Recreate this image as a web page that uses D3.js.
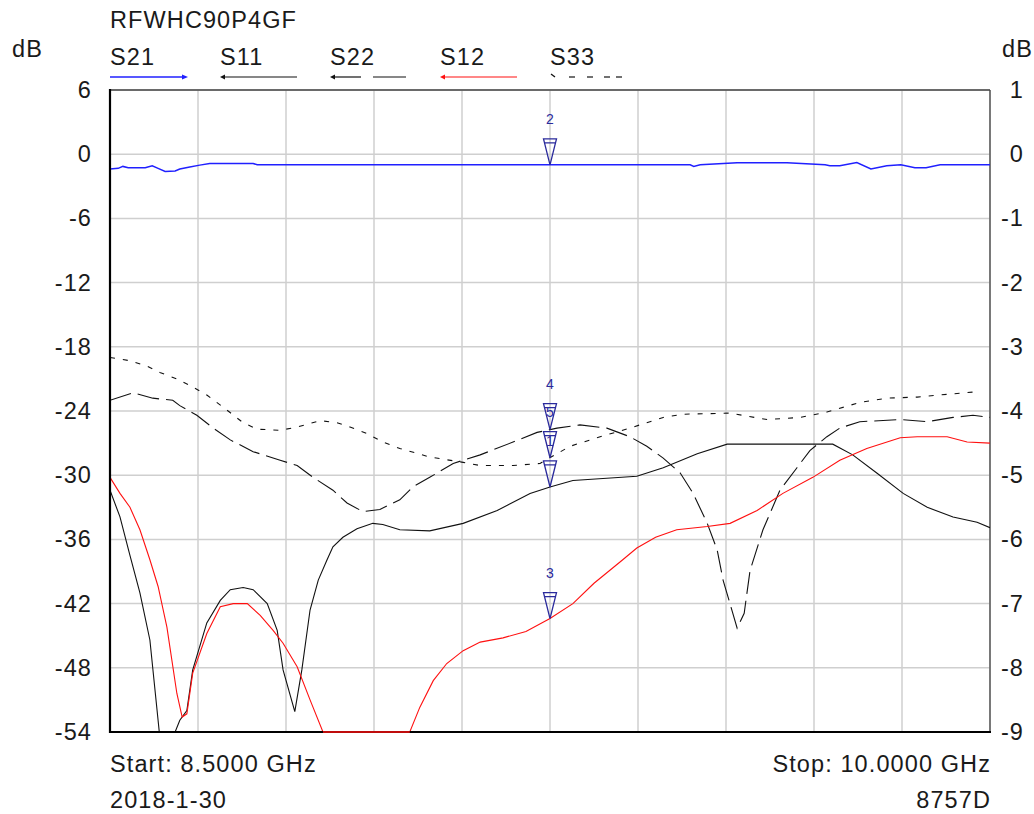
<!DOCTYPE html>
<html>
<head>
<meta charset="utf-8">
<script src="https://cdn.jsdelivr.net/npm/d3@7"></script>
<style>
  body { margin: 0; background: #fff; }
  svg text { font-family: "Liberation Sans", Arial, sans-serif; fill: #1a1a1a; font-size: 23.5px; letter-spacing: 1.1px; }
</style>
</head>
<body>
<svg id="chart" width="1034" height="814"></svg>
<script>
// frequency axis, GHz
var fStart = 8.5, fStop = 10.0;
var leftTicks = [6, 0, -6, -12, -18, -24, -30, -36, -42, -48, -54];
var rightTicks = [1, 0, -1, -2, -3, -4, -5, -6, -7, -8, -9];

// S21 (right axis, 1 dB/div)
var s21Freq = [8.500, 8.514, 8.522, 8.531, 8.560, 8.572, 8.582, 8.594, 8.611, 8.619, 8.636, 8.653, 8.670, 8.744, 8.751, 9.489, 9.495, 9.506, 9.569, 9.654, 9.719, 9.727, 9.744, 9.773, 9.797, 9.824, 9.848, 9.872, 9.891, 9.915, 10.000];
var s21Val = [-0.23, -0.22, -0.19, -0.21, -0.21, -0.18, -0.22, -0.27, -0.26, -0.23, -0.20, -0.17, -0.145, -0.145, -0.165, -0.165, -0.19, -0.165, -0.135, -0.135, -0.165, -0.18, -0.18, -0.13, -0.23, -0.18, -0.165, -0.21, -0.21, -0.165, -0.165];

// S11 (left axis)
var s11Freq = [8.500, 8.517, 8.534, 8.551, 8.568, 8.584, 8.611, 8.619, 8.631, 8.641, 8.665, 8.688, 8.705, 8.727, 8.744, 8.768, 8.785, 8.795, 8.815, 8.827, 8.841, 8.855, 8.870, 8.880, 8.897, 8.921, 8.948, 8.965, 8.994, 9.045, 9.102, 9.160, 9.216, 9.250, 9.289, 9.398, 9.443, 9.501, 9.552, 9.732, 9.766, 9.807, 9.852, 9.893, 9.937, 9.978, 10.000];
var s11Val = [-31.4, -33.9, -37.5, -41.0, -45.4, -54.0, -54.0, -52.9, -52.0, -48.2, -43.8, -41.7, -40.7, -40.5, -40.7, -42.0, -44.5, -48.2, -52.1, -48.2, -42.6, -39.8, -37.9, -36.7, -35.8, -35.0, -34.5, -34.6, -35.1, -35.2, -34.5, -33.3, -31.7, -31.1, -30.5, -30.1, -29.3, -28.0, -27.1, -27.1, -28.1, -29.8, -31.7, -33.0, -33.9, -34.4, -34.9];

// S22
var s22Freq = [8.500, 8.539, 8.573, 8.607, 8.619, 8.648, 8.676, 8.705, 8.744, 8.790, 8.819, 8.846, 8.880, 8.904, 8.931, 8.960, 8.994, 9.016, 9.045, 9.085, 9.131, 9.187, 9.228, 9.262, 9.301, 9.347, 9.386, 9.415, 9.443, 9.472, 9.494, 9.518, 9.535, 9.545, 9.569, 9.581, 9.591, 9.613, 9.642, 9.671, 9.693, 9.722, 9.744, 9.778, 9.847, 9.893, 9.937, 9.971, 10.000];
var s22Val = [-23.0, -22.3, -22.8, -23.0, -23.5, -24.4, -25.6, -26.7, -27.8, -28.6, -29.1, -30.2, -31.4, -32.6, -33.4, -33.2, -32.3, -31.1, -30.2, -28.9, -28.1, -26.9, -26.0, -25.6, -25.3, -25.6, -26.4, -27.3, -28.4, -29.8, -31.7, -34.5, -37.0, -39.8, -44.3, -42.9, -38.9, -35.1, -31.4, -29.3, -27.7, -26.4, -25.6, -25.0, -24.8, -25.0, -24.6, -24.4, -24.6];

// S12
var s12Freq = [8.500, 8.517, 8.534, 8.551, 8.568, 8.582, 8.597, 8.614, 8.623, 8.631, 8.641, 8.665, 8.688, 8.710, 8.734, 8.756, 8.778, 8.795, 8.819, 8.841, 8.863, 9.011, 9.028, 9.051, 9.074, 9.102, 9.131, 9.170, 9.209, 9.250, 9.289, 9.325, 9.374, 9.398, 9.430, 9.466, 9.518, 9.557, 9.603, 9.647, 9.698, 9.744, 9.790, 9.847, 9.876, 9.927, 9.961, 10.000];
var s12Val = [-30.2, -31.7, -33.0, -35.1, -37.9, -40.4, -44.2, -50.4, -52.6, -52.3, -48.5, -44.8, -42.3, -42.0, -42.0, -43.1, -44.5, -45.7, -47.9, -51.0, -54.0, -54.0, -51.7, -49.2, -47.6, -46.4, -45.6, -45.2, -44.6, -43.4, -42.0, -40.1, -37.9, -36.8, -35.8, -35.1, -34.8, -34.5, -33.3, -31.7, -30.2, -28.6, -27.5, -26.5, -26.4, -26.4, -26.9, -27.0];

// S33
var s33Freq = [8.500, 8.534, 8.563, 8.585, 8.614, 8.636, 8.665, 8.699, 8.727, 8.751, 8.790, 8.819, 8.858, 8.887, 8.909, 8.938, 8.965, 8.994, 9.045, 9.102, 9.131, 9.187, 9.233, 9.284, 9.330, 9.386, 9.443, 9.477, 9.557, 9.620, 9.676, 9.722, 9.778, 9.824, 9.876, 9.915, 9.978];
var s33Val = [-19.0, -19.3, -19.8, -20.4, -21.0, -21.6, -22.5, -23.9, -25.1, -25.7, -25.8, -25.5, -24.9, -25.1, -25.5, -26.1, -26.9, -27.5, -28.3, -28.8, -29.1, -29.1, -28.9, -27.3, -26.5, -25.6, -24.6, -24.3, -24.2, -24.8, -24.6, -24.1, -23.2, -22.8, -22.7, -22.5, -22.2];

// markers: all at 9.25 GHz
var markerFreq = 9.25;
var markerIds = ['2', '4', '5', '1', '3'];
var markerTrace = ['S21', 'S22', 'S33', 'S11', 'S12'];

var legendNames = ['S21', 'S11', 'S22', 'S12', 'S33'];

var svg = d3.select('#chart');
var pLeft = 110, pRight = 990, pTop = 90, pBottom = 732;

var x = d3.scaleLinear().domain([fStart, fStop]).range([pLeft, pRight]);
var yL = d3.scaleLinear().domain([-54, 6]).range([pBottom, pTop]);
var yR = d3.scaleLinear().domain([-9, 1]).range([pBottom, pTop]);

var traces = {
  S21: { f: s21Freq, v: s21Val, y: yR, color: '#2020ff', dash: null, width: 1.5 },
  S11: { f: s11Freq, v: s11Val, y: yL, color: '#111', dash: null, width: 1.1 },
  S22: { f: s22Freq, v: s22Val, y: yL, color: '#111', dash: '22,7', width: 1.1 },
  S12: { f: s12Freq, v: s12Val, y: yL, color: '#ff1010', dash: null, width: 1.1 },
  S33: { f: s33Freq, v: s33Val, y: yL, color: '#111', dash: '5,8', width: 1.1 }
};

var plainNum = function (d) { return String(d); }; // hyphen minus like the analyser

// grid
var vGrid = d3.range(0, 11).map(function (i) { return fStart + i * (fStop - fStart) / 10; });
svg.append('g').selectAll('line').data(vGrid).enter().append('line')
  .attr('x1', function (d) { return x(d); }).attr('x2', function (d) { return x(d); })
  .attr('y1', pTop).attr('y2', pBottom)
  .attr('stroke', '#cfcfcf').attr('stroke-width', 1.5);
svg.append('g').selectAll('line').data(leftTicks).enter().append('line')
  .attr('x1', pLeft).attr('x2', pRight)
  .attr('y1', function (d) { return yL(d); }).attr('y2', function (d) { return yL(d); })
  .attr('stroke', '#cfcfcf').attr('stroke-width', 1.5);

// axes labels
var axL = svg.append('g').attr('transform', 'translate(' + pLeft + ',0)')
  .call(d3.axisLeft(yL).tickValues(leftTicks).tickFormat(plainNum).tickSize(0).tickPadding(18));
axL.select('.domain').remove();
axL.selectAll('text').attr('font-size', null).attr('font-family', null).attr('fill', '#1a1a1a');

var axR = svg.append('g').attr('transform', 'translate(' + pRight + ',0)')
  .call(d3.axisRight(yR).tickValues(rightTicks).tickFormat(plainNum).tickSize(0));
axR.select('.domain').remove();
axR.selectAll('text').attr('font-size', null).attr('font-family', null).attr('fill', '#1a1a1a')
  .attr('text-anchor', 'end').attr('x', 34);

// frame
svg.append('line').attr('x1', pLeft).attr('x2', pRight).attr('y1', pTop).attr('y2', pTop)
  .attr('stroke', '#444').attr('stroke-width', 1.3);
svg.append('line').attr('x1', pRight).attr('x2', pRight).attr('y1', pTop).attr('y2', pBottom)
  .attr('stroke', '#444').attr('stroke-width', 1.3);

// traces
svg.append('clipPath').attr('id', 'plot').append('rect')
  .attr('x', pLeft).attr('y', pTop - 1).attr('width', pRight - pLeft).attr('height', pBottom - pTop + 2);

var order = ['S33', 'S22', 'S11', 'S12', 'S21'];
order.forEach(function (name) {
  var t = traces[name];
  var line = d3.line()
    .x(function (d, i) { return x(t.f[i]); })
    .y(function (d) { return t.y(d); });
  svg.append('path')
    .attr('clip-path', 'url(#plot)')
    .attr('d', line(t.v))
    .attr('fill', 'none')
    .attr('stroke', t.color)
    .attr('stroke-width', t.width)
    .attr('stroke-dasharray', t.dash);
});

svg.append('line').attr('x1', pLeft).attr('x2', pLeft).attr('y1', pTop - 1).attr('y2', pBottom + 1)
  .attr('stroke', '#000').attr('stroke-width', 2.2);
svg.append('line').attr('x1', pLeft - 1).attr('x2', pRight + 1).attr('y1', pBottom).attr('y2', pBottom)
  .attr('stroke', '#000').attr('stroke-width', 2.2);
// S12 lies on the bottom edge where it is clipped
(function () {
  var t = traces.S12;
  var line = d3.line().x(function (d, i) { return x(t.f[i]); }).y(function (d) { return t.y(d); })
    .defined(function (d) { return d <= -54; });
  svg.append('path').attr('d', line(t.v)).attr('fill', 'none')
    .attr('stroke', t.color).attr('stroke-width', 1.3);
})();

// markers
function interp(f, xs, vs) {
  var i = d3.bisectLeft(xs, f);
  if (i <= 0) return vs[0];
  if (i >= xs.length) return vs[vs.length - 1];
  var a = (f - xs[i - 1]) / (xs[i] - xs[i - 1]);
  return vs[i - 1] + a * (vs[i] - vs[i - 1]);
}
var mk = svg.append('g');
markerIds.forEach(function (id, k) {
  var t = traces[markerTrace[k]];
  var mx = x(markerFreq);
  var my = t.y(interp(markerFreq, t.f, t.v));
  var g = mk.append('g').attr('transform', 'translate(' + mx + ',' + my + ')');
  g.append('path')
    .attr('d', 'M-6.5,-26 L6.5,-26 L5.5,-22 L0,0 L-5.5,-22 Z M-5.5,-22 L5.5,-22')
    .attr('fill', 'none').attr('stroke', '#2a2a9c').attr('stroke-width', 1.3);
  g.append('text').attr('x', 0).attr('y', -41)
    .attr('text-anchor', 'middle')
    .style('font-size', '14px').style('letter-spacing', '0').style('fill', '#2a2a9c')
    .text(id);
});

// header
svg.append('text').attr('x', 110).attr('y', 28).text('RFWHC90P4GF');
svg.append('text').attr('x', 12).attr('y', 57).text('dB');
svg.append('text').attr('x', 1002).attr('y', 57).text('dB');

// legend
var lg = svg.append('g');
legendNames.forEach(function (name, i) {
  var t = traces[name];
  var lx = 110 + i * 110;
  lg.append('text').attr('x', lx).attr('y', 65).text(name);
  var ly = 77;
  if (name === 'S21') {
    lg.append('line').attr('x1', lx).attr('x2', lx + 75).attr('y1', ly).attr('y2', ly)
      .attr('stroke', t.color).attr('stroke-width', 1.3);
    lg.append('path').attr('d', 'M' + (lx + 72) + ',' + (ly - 2.5) + ' L' + (lx + 78) + ',' + ly + ' L' + (lx + 72) + ',' + (ly + 2.5) + 'Z')
      .attr('fill', t.color);
  } else {
    var segs = name === 'S22' ? [[3, 31], [43, 76]] :
      name === 'S33' ? [[19, 25], [37, 43], [54, 60], [66, 72]] : [[2, 77]];
    segs.forEach(function (s) {
      lg.append('line').attr('x1', lx + s[0]).attr('x2', lx + s[1]).attr('y1', ly).attr('y2', ly)
        .attr('stroke', t.color).attr('stroke-width', 1.2);
    });
    if (name === 'S33') {
      lg.append('path').attr('d', 'M' + (lx + 1) + ',' + (ly - 3) + ' L' + (lx + 5) + ',' + ly)
        .attr('stroke', t.color).attr('stroke-width', 1.3);
    } else {
      lg.append('path').attr('d', 'M' + lx + ',' + ly + ' L' + (lx + 5) + ',' + (ly - 2.5) + ' L' + (lx + 5) + ',' + (ly + 2.5) + 'Z')
        .attr('fill', t.color);
    }
  }
});

// footer
svg.append('text').attr('x', 110).attr('y', 772).text('Start: 8.5000 GHz');
svg.append('text').attr('x', 110).attr('y', 808).text('2018-1-30');
svg.append('text').attr('x', 991).attr('y', 772).attr('text-anchor', 'end').text('Stop: 10.0000 GHz');
svg.append('text').attr('x', 991).attr('y', 808).attr('text-anchor', 'end').text('8757D');
</script>
</body>
</html>
